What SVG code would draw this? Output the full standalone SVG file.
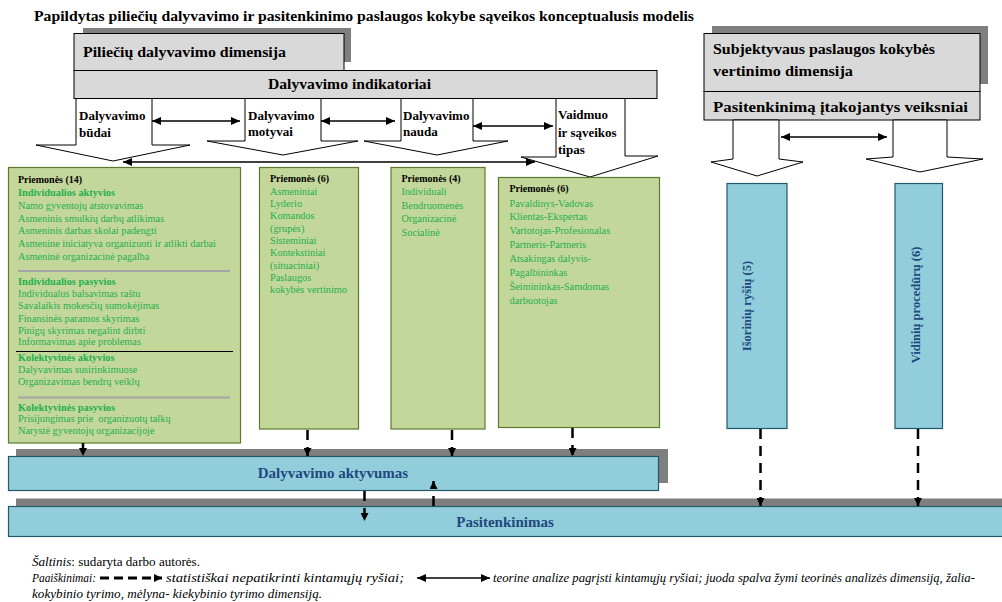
<svg xmlns="http://www.w3.org/2000/svg" width="1002" height="602" viewBox="0 0 1002 602">
<style>
text{font-family:"Liberation Serif","Times New Roman","DejaVu Serif",serif}
.ttl{font-weight:bold;font-size:14px;fill:#000}
.hdr{font-weight:bold;font-size:15px;fill:#000}
.lab{font-weight:bold;font-size:13px;fill:#000}
.gray{fill:#d9d9d9;stroke:#000;stroke-width:1}
.shadow{fill:#7f7f7f}
.blk{fill:#fff;stroke:#000;stroke-width:1}
.grn{fill:#c4d79b;stroke:#5b7a2b;stroke-width:1.2}
.blue{fill:#92cddc;stroke:#215968;stroke-width:1.2}
.pt{font-weight:bold;font-size:10px;fill:#000}
.gh{font-weight:bold;font-size:10.3px;fill:#22b04b}
.gt{font-size:10.3px;fill:#22b04b}
.gt1{font-size:10.3px;fill:#22b04b}
.bt{font-weight:bold;font-size:15px;fill:#1f497d}
.vt{font-weight:bold;font-size:12.5px;fill:#1f497d}
.dbl{stroke:#000;stroke-width:1.5;fill:none;marker-start:url(#hs);marker-end:url(#he)}
.dash{stroke:#000;stroke-width:2.5;fill:none;stroke-dasharray:10 7;marker-end:url(#dh)}
.leg{font-size:12px;fill:#000}
.it{font-style:italic}
</style>
<defs>
<marker id="he" markerUnits="userSpaceOnUse" markerWidth="10" markerHeight="8" refX="9" refY="4" orient="auto"><path d="M0,0 L9,4 L0,8 z" fill="#000"/></marker>
<marker id="hs" markerUnits="userSpaceOnUse" markerWidth="10" markerHeight="8" refX="9" refY="4" orient="auto-start-reverse"><path d="M0,0 L9,4 L0,8 z" fill="#000"/></marker>
<marker id="dh" markerUnits="userSpaceOnUse" markerWidth="8" markerHeight="8" refX="8" refY="4" orient="auto"><path d="M0,0 L8,4 L0,8 z" fill="#000"/></marker>
</defs>

<rect width="1002" height="602" fill="#fff"/>

<text id="title" class="ttl" x="34" y="21" textLength="660" lengthAdjust="spacingAndGlyphs">Papildytas piliečių dalyvavimo ir pasitenkinimo paslaugos kokybe sąveikos konceptualusis modelis</text>

<g id="dimension-left">
<rect class="shadow" x="83" y="28" width="268" height="34"/>
<rect class="gray" x="74" y="33.5" width="270" height="37"/>
<text class="hdr" x="83" y="57" textLength="203" lengthAdjust="spacingAndGlyphs">Piliečių dalyvavimo dimensija</text>
</g>
<g id="indicators">
<rect class="gray" x="74" y="70.5" width="583" height="28"/>
<text class="hdr" x="268" y="89" textLength="163" lengthAdjust="spacingAndGlyphs">Dalyvavimo indikatoriai</text>
</g>

<g id="arrow-budai">
<polygon class="blk" points="76,98.5 76,145 36,145 113,161 190,145 152,145 152,98.5"/>
<text class="lab" x="79" y="120">Dalyvavimo</text>
<text class="lab" x="79" y="137">būdai</text>
</g>
<g id="arrow-motyvai">
<polygon class="blk" points="245,98.5 245,141 207,141 283,155 358,141 321,141 321,98.5"/>
<text class="lab" x="248" y="120">Dalyvavimo</text>
<text class="lab" x="248" y="136">motyvai</text>
</g>
<g id="arrow-nauda">
<polygon class="blk" points="401,98.5 401,141 364,141 437,155 508,141 473,141 473,98.5"/>
<text class="lab" x="403" y="120">Dalyvavimo</text>
<text class="lab" x="403" y="136">nauda</text>
</g>
<g id="arrow-vaidmuo">
<polygon class="blk" points="556,98.5 556,157 521,157 590,177 658,156 625,156 625,98.5"/>
<text class="lab" x="558" y="119">Vaidmuo</text>
<text class="lab" x="558" y="137">ir sąveikos</text>
<text class="lab" x="558" y="154">tipas</text>
</g>

<g id="dimension-right">
<rect class="shadow" x="712" y="26" width="276" height="58"/>
<rect class="gray" x="704" y="33.5" width="276" height="58"/>
<text class="hdr" x="713" y="54" textLength="222" lengthAdjust="spacingAndGlyphs">Subjektyvaus paslaugos kokybės</text>
<text class="hdr" x="713" y="76" textLength="140" lengthAdjust="spacingAndGlyphs">vertinimo dimensija</text>
</g>
<g id="factors">
<rect class="gray" x="704" y="91.5" width="276" height="28.5"/>
<text class="hdr" x="713" y="112" textLength="255" lengthAdjust="spacingAndGlyphs">Pasitenkinimą įtakojantys veiksniai</text>
</g>
<g id="arrow-isoriniu">
<polygon class="blk" points="733,120 733,159 711,162 757,176 803,162 779,159 779,120"/>
</g>
<g id="arrow-vidiniu">
<polygon class="blk" points="893,120 893,157 866,159 920,172 983,159 947,157 947,120"/>
</g>

<g id="box-budai">
<rect class="grn" x="8.5" y="167.5" width="232" height="275.5"/>
<text class="pt" x="18" y="182.5">Priemonės (14)</text>
<text class="gh" x="18" y="196">Individualios aktyvios</text>
<text class="gt1" x="18" y="208.5">Namo gyventojų atstovavimas</text>
<text class="gt1" x="18" y="222">Asmeninis smulkių darbų atlikimas</text>
<text class="gt1" x="18" y="234">Asmeninis darbas skolai padengti</text>
<text class="gt1" x="18" y="246.5">Asmenine iniciatyva organizuoti ir atlikti darbai</text>
<text class="gt1" x="18" y="259.5">Asmeninė organizacinė pagalba</text>
<line x1="18" y1="271" x2="230" y2="271" stroke="#a6a6a6" stroke-width="2"/>
<text class="gh" x="18" y="285">Individualios pasyvios</text>
<text class="gt1" x="18" y="297">Individualus balsavimas raštu</text>
<text class="gt1" x="18" y="308.5">Savalaikis mokesčių sumokėjimas</text>
<text class="gt1" x="18" y="321.5">Finansinės paramos skyrimas</text>
<text class="gt1" x="18" y="333.5">Pinigų skyrimas negalint dirbti</text>
<text class="gt1" x="18" y="345">Informavimas apie problemas</text>
<line x1="16" y1="351.5" x2="233" y2="351.5" stroke="#000" stroke-width="1"/>
<text class="gh" x="18" y="361">Kolektyvinės aktyvios</text>
<text class="gt1" x="18" y="373">Dalyvavimas susirinkimuose</text>
<text class="gt1" x="18" y="385">Organizavimas bendrų veiklų</text>
<line x1="18" y1="397.5" x2="230" y2="397.5" stroke="#a6a6a6" stroke-width="2"/>
<text class="gh" x="18" y="410.5">Kolektyvinės pasyvios</text>
<text class="gt1" x="18" y="422" xml:space="preserve">Prisijungimas prie  organizuotų talkų</text>
<text class="gt1" x="18" y="434">Narystė gyventojų organizacijoje</text>
</g>
<g id="box-motyvai">
<rect class="grn" x="259.5" y="167.5" width="99" height="261.5"/>
<text class="pt" x="270" y="182">Priemonės (6)</text>
<text class="gt" x="270" y="194.5">Asmeniniai</text>
<text class="gt" x="270" y="206.5">Lyderio</text>
<text class="gt" x="270" y="219">Komandos</text>
<text class="gt" x="270" y="231.5">(grupės)</text>
<text class="gt" x="270" y="243.5">Sisteminiai</text>
<text class="gt" x="270" y="256">Kontekstiniai</text>
<text class="gt" x="270" y="268.5">(situaciniai)</text>
<text class="gt" x="270" y="280.5">Paslaugos</text>
<text class="gt" x="270" y="293">kokybės vertinimo</text>
</g>
<g id="box-nauda">
<rect class="grn" x="391" y="167.5" width="94" height="261.5"/>
<text class="pt" x="401.5" y="182">Priemonės (4)</text>
<text class="gt" x="401.5" y="194.5">Individuali</text>
<text class="gt" x="401.5" y="208.5">Bendruomenės</text>
<text class="gt" x="401.5" y="222">Organizacinė</text>
<text class="gt" x="401.5" y="236">Socialinė</text>
</g>
<g id="box-vaidmuo">
<rect class="grn" x="498.5" y="177.5" width="161" height="250"/>
<text class="pt" x="509.5" y="192">Priemonės (6)</text>
<text class="gt" x="509.5" y="206.5">Pavaldinys-Vadovas</text>
<text class="gt" x="509.5" y="220">Klientas-Ekspertas</text>
<text class="gt" x="509.5" y="234">Vartotojas-Profesionalas</text>
<text class="gt" x="509.5" y="248">Partneris-Partneris</text>
<text class="gt" x="509.5" y="262">Atsakingas dalyvis-</text>
<text class="gt" x="509.5" y="276">Pagalbininkas</text>
<text class="gt" x="509.5" y="290">Šeimininkas-Samdomas</text>
<text class="gt" x="509.5" y="304">darbuotojas</text>
</g>

<g id="box-isoriniu">
<rect class="blue" x="727" y="183.5" width="60" height="245"/>
<text class="vt" transform="translate(751,306) rotate(-90)" text-anchor="middle">Išorinių ryšių (5)</text>
</g>
<g id="box-vidiniu">
<rect class="blue" x="895" y="183.5" width="47.5" height="245"/>
<text class="vt" transform="translate(919.5,305) rotate(-90)" text-anchor="middle">Vidinių procedūrų (6)</text>
</g>

<g id="aktyvumas">
<rect class="shadow" x="16" y="449" width="652" height="34"/>
<rect class="blue" x="8.5" y="456.5" width="650" height="34"/>
<text class="bt" x="333" y="478" text-anchor="middle">Dalyvavimo aktyvumas</text>
</g>
<g id="pasitenkinimas">
<rect class="shadow" x="16" y="498.5" width="990" height="30"/>
<rect class="blue" x="8.5" y="506.5" width="1000" height="30"/>
<text class="bt" x="505" y="527" text-anchor="middle">Pasitenkinimas</text>
</g>

<g id="connectors">
<line class="dbl" x1="152" y1="121" x2="240" y2="121"/>
<line class="dbl" x1="321" y1="121" x2="395" y2="121"/>
<line class="dbl" x1="473" y1="126" x2="553" y2="126"/>
<line class="dbl" x1="123" y1="162" x2="535" y2="162"/>
<line class="dbl" x1="781" y1="137" x2="887" y2="137"/>
<line class="dash" x1="83" y1="443" x2="83" y2="456"/>
<line class="dash" x1="307.5" y1="430" x2="307.5" y2="456"/>
<line class="dash" x1="452" y1="430" x2="452" y2="456"/>
<line class="dash" x1="572.5" y1="428" x2="572.5" y2="456"/>
<line class="dash" x1="760.5" y1="429" x2="760.5" y2="506"/>
<line class="dash" x1="918" y1="429" x2="918" y2="506"/>
<line class="dash" x1="364.5" y1="491" x2="364.5" y2="521"/>
<line class="dash" x1="433.5" y1="506" x2="433.5" y2="481"/>
</g>

<g id="legend">
<text class="leg" x="32" y="566" textLength="168" lengthAdjust="spacingAndGlyphs"><tspan class="it">Šaltinis</tspan>: sudaryta darbo autorės.</text>
<text class="leg it" x="32" y="582" textLength="64" lengthAdjust="spacingAndGlyphs">Paaiškinimai:</text>
<line x1="100" y1="578" x2="162" y2="578" stroke="#000" stroke-width="3" stroke-dasharray="9 5" marker-end="url(#dh)"/>
<text class="leg it" x="166" y="582" textLength="238" lengthAdjust="spacingAndGlyphs">statistiškai nepatikrinti kintamųjų ryšiai;</text>
<line class="dbl" x1="417" y1="578" x2="490" y2="578"/>
<text class="leg it" x="493" y="582" textLength="482" lengthAdjust="spacingAndGlyphs">teorine analize pagrįsti kintamųjų ryšiai; juoda spalva žymi teorinės analizės dimensiją, žalia-</text>
<text class="leg it" x="32" y="598" textLength="290" lengthAdjust="spacingAndGlyphs">kokybinio tyrimo, mėlyna- kiekybinio tyrimo dimensiją.</text>
</g>
</svg>
